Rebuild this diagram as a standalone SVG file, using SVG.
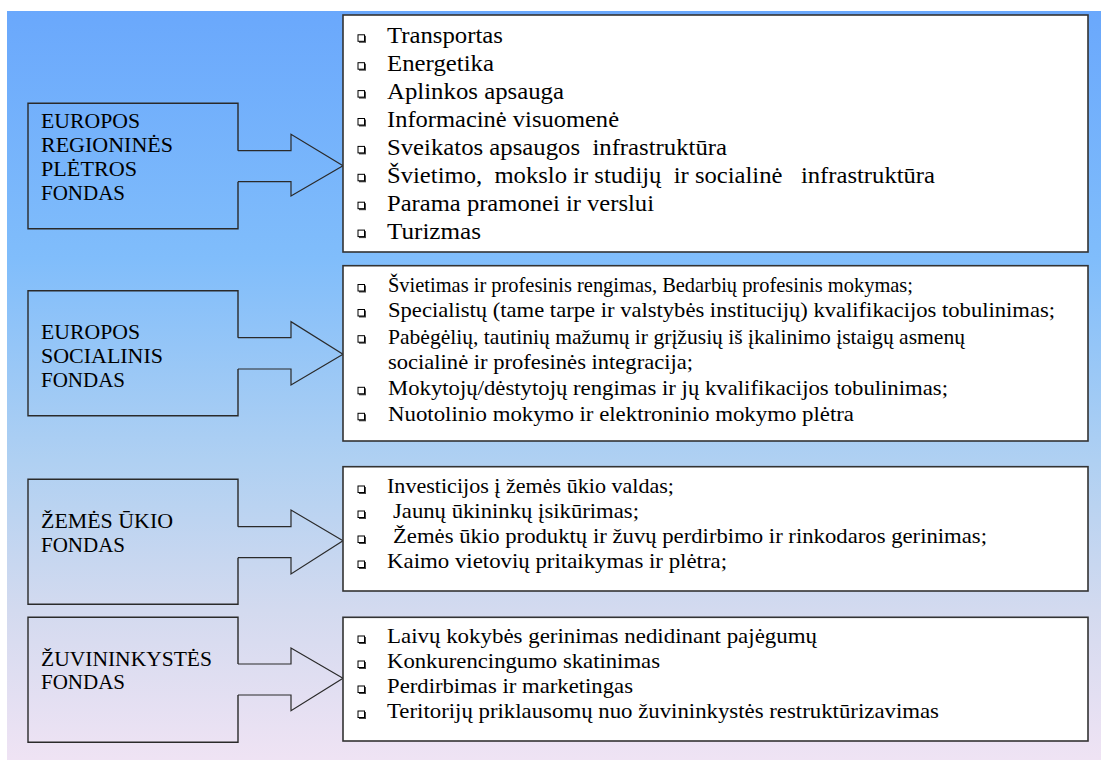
<svg xmlns="http://www.w3.org/2000/svg" xmlns:xlink="http://www.w3.org/1999/xlink" width="1101" height="760" viewBox="0 0 1101 760">
<style>
text{font-family:'Liberation Serif','Times New Roman',serif;fill:#000}
.lbl{font-size:20px}
.it{font-size:21px;white-space:pre}
.it1{font-size:23px}
.src{fill:none;stroke:#2a2a2a;stroke-width:1.4}
.dst{fill:#fff;stroke:#333;stroke-width:1.6}
.arr{fill:none;stroke:#2a2a2a;stroke-width:1.2;stroke-linejoin:miter}
</style>
<defs>
<linearGradient id="bg" x1="0" y1="0" x2="0" y2="1">
<stop offset="0" stop-color="#6aa8fc"/>
<stop offset="0.33" stop-color="#80bdfb"/>
<stop offset="0.6" stop-color="#afd0f2"/>
<stop offset="0.8" stop-color="#d3daef"/>
<stop offset="1" stop-color="#efe3f4"/>
</linearGradient>
<g id="bul"><rect x="1.5" y="1.5" width="7" height="7" fill="#444"/><rect x="0.5" y="0.5" width="6.5" height="6.5" fill="#fff" stroke="#000" stroke-width="1"/></g>
</defs>
<rect x="7" y="11" width="1094" height="749" fill="url(#bg)"/>

<g id="connectors">
<polyline class="arr" points="238,150.7 291,150.7 291,134.3 343,165.7 291,196 291,181.7 238,181.7"/>
<polyline class="arr" points="238,337.7 291,337.7 291,321.7 343,354.3 291,385 291,369 238,369"/>
<polyline class="arr" points="238,526.7 291,526.7 291,510 343,540.7 291,574 291,557.7 238,557.7"/>
<polyline class="arr" points="238,664 291,664 291,648 343,678.3 291,710.7 291,695 238,695"/>
</g>

<g id="fund-erpf">
<path class="src" d="M238,150.7 V103.3 H28 V228.7 H238 V181.7"/>
<text class="lbl" x="41" y="127.7" textLength="99" lengthAdjust="spacingAndGlyphs">EUROPOS</text>
<text class="lbl" x="41" y="152.3" textLength="132" lengthAdjust="spacingAndGlyphs">REGIONINĖS</text>
<text class="lbl" x="41" y="175.7" textLength="96" lengthAdjust="spacingAndGlyphs">PLĖTROS</text>
<text class="lbl" x="41" y="200" textLength="84" lengthAdjust="spacingAndGlyphs">FONDAS</text>
</g>

<g id="fund-esf">
<path class="src" d="M238,337.7 V290.7 H28 V415.7 H238 V369"/>
<text class="lbl" x="41" y="339.3" textLength="99" lengthAdjust="spacingAndGlyphs">EUROPOS</text>
<text class="lbl" x="41" y="363.3" textLength="122" lengthAdjust="spacingAndGlyphs">SOCIALINIS</text>
<text class="lbl" x="41" y="387.3" textLength="84" lengthAdjust="spacingAndGlyphs">FONDAS</text>
</g>

<g id="fund-agri">
<path class="src" d="M238,526.7 V479.3 H28 V604.3 H238 V557.7"/>
<text class="lbl" x="41" y="528.3" textLength="132" lengthAdjust="spacingAndGlyphs">ŽEMĖS ŪKIO</text>
<text class="lbl" x="41" y="551.7" textLength="84" lengthAdjust="spacingAndGlyphs">FONDAS</text>
</g>

<g id="fund-fish">
<path class="src" d="M238,664 V617.3 H28 V742.3 H238 V695"/>
<text class="lbl" x="41" y="666" textLength="171" lengthAdjust="spacingAndGlyphs">ŽUVININKYSTĖS</text>
<text class="lbl" x="41" y="689.3" textLength="84" lengthAdjust="spacingAndGlyphs">FONDAS</text>
</g>

<g id="list-erpf">
<rect class="dst" x="343" y="15" width="745" height="237"/>
<use xlink:href="#bul" x="357.5" y="34.3"/>
<use xlink:href="#bul" x="357.5" y="62.2"/>
<use xlink:href="#bul" x="357.5" y="90.1"/>
<use xlink:href="#bul" x="357.5" y="118"/>
<use xlink:href="#bul" x="357.5" y="145.9"/>
<use xlink:href="#bul" x="357.5" y="173.8"/>
<use xlink:href="#bul" x="357.5" y="201.7"/>
<use xlink:href="#bul" x="357.5" y="229.6"/>
<text class="it it1" x="387" y="43.3" textLength="116" lengthAdjust="spacingAndGlyphs">Transportas</text>
<text class="it it1" x="387" y="71.2" textLength="107" lengthAdjust="spacingAndGlyphs">Energetika</text>
<text class="it it1" x="387" y="99.1" textLength="177" lengthAdjust="spacingAndGlyphs">Aplinkos apsauga</text>
<text class="it it1" x="387" y="127" textLength="232" lengthAdjust="spacingAndGlyphs">Informacinė visuomenė</text>
<text class="it it1" x="387" y="154.9" textLength="340" lengthAdjust="spacingAndGlyphs">Sveikatos apsaugos  infrastruktūra</text>
<text class="it it1" x="387" y="182.8" textLength="548" lengthAdjust="spacingAndGlyphs">Švietimo,  mokslo ir studijų  ir socialinė   infrastruktūra</text>
<text class="it it1" x="387" y="210.7" textLength="267" lengthAdjust="spacingAndGlyphs">Parama pramonei ir verslui</text>
<text class="it it1" x="387" y="238.6" textLength="94" lengthAdjust="spacingAndGlyphs">Turizmas</text>
</g>

<g id="list-esf">
<rect class="dst" x="343" y="265.7" width="745" height="175.3"/>
<use xlink:href="#bul" x="357.5" y="284"/>
<use xlink:href="#bul" x="357.5" y="309"/>
<use xlink:href="#bul" x="357.5" y="335.2"/>
<use xlink:href="#bul" x="357.5" y="386.8"/>
<use xlink:href="#bul" x="357.5" y="412.8"/>
<text class="it" x="388" y="292" textLength="525" lengthAdjust="spacingAndGlyphs">Švietimas ir profesinis rengimas, Bedarbių profesinis mokymas;</text>
<text class="it" x="388" y="317.3" textLength="667" lengthAdjust="spacingAndGlyphs">Specialistų (tame tarpe ir valstybės institucijų) kvalifikacijos tobulinimas;</text>
<text class="it" x="388" y="343.5" textLength="577" lengthAdjust="spacingAndGlyphs">Pabėgėlių, tautinių mažumų ir grįžusių iš įkalinimo įstaigų asmenų</text>
<text class="it" x="388" y="369.3" textLength="305" lengthAdjust="spacingAndGlyphs">socialinė ir profesinės integracija;</text>
<text class="it" x="388" y="395.3" textLength="560" lengthAdjust="spacingAndGlyphs">Mokytojų/dėstytojų rengimas ir jų kvalifikacijos tobulinimas;</text>
<text class="it" x="388" y="421.3" textLength="466" lengthAdjust="spacingAndGlyphs">Nuotolinio mokymo ir elektroninio mokymo plėtra</text>
</g>

<g id="list-agri">
<rect class="dst" x="343" y="466.7" width="745" height="124.3"/>
<use xlink:href="#bul" x="357.5" y="485.5"/>
<use xlink:href="#bul" x="357.5" y="510.5"/>
<use xlink:href="#bul" x="357.5" y="535.5"/>
<use xlink:href="#bul" x="357.5" y="560.5"/>
<text class="it" x="387" y="493.3" textLength="287" lengthAdjust="spacingAndGlyphs">Investicijos į žemės ūkio valdas;</text>
<text class="it" x="393" y="518.3" textLength="246" lengthAdjust="spacingAndGlyphs">Jaunų ūkininkų įsikūrimas;</text>
<text class="it" x="393" y="543.3" textLength="594" lengthAdjust="spacingAndGlyphs">Žemės ūkio produktų ir žuvų perdirbimo ir rinkodaros gerinimas;</text>
<text class="it" x="387" y="568.3" textLength="340" lengthAdjust="spacingAndGlyphs">Kaimo vietovių pritaikymas ir plėtra;</text>
</g>

<g id="list-fish">
<rect class="dst" x="343" y="617.3" width="745" height="123.7"/>
<use xlink:href="#bul" x="357.5" y="635.5"/>
<use xlink:href="#bul" x="357.5" y="660.5"/>
<use xlink:href="#bul" x="357.5" y="685.5"/>
<use xlink:href="#bul" x="357.5" y="710.5"/>
<text class="it" x="387" y="643.3" textLength="430" lengthAdjust="spacingAndGlyphs">Laivų kokybės gerinimas nedidinant pajėgumų</text>
<text class="it" x="387" y="668.3" textLength="273" lengthAdjust="spacingAndGlyphs">Konkurencingumo skatinimas</text>
<text class="it" x="387" y="693.3" textLength="246" lengthAdjust="spacingAndGlyphs">Perdirbimas ir marketingas</text>
<text class="it" x="387" y="718.3" textLength="552" lengthAdjust="spacingAndGlyphs">Teritorijų priklausomų nuo žuvininkystės restruktūrizavimas</text>
</g>
</svg>
